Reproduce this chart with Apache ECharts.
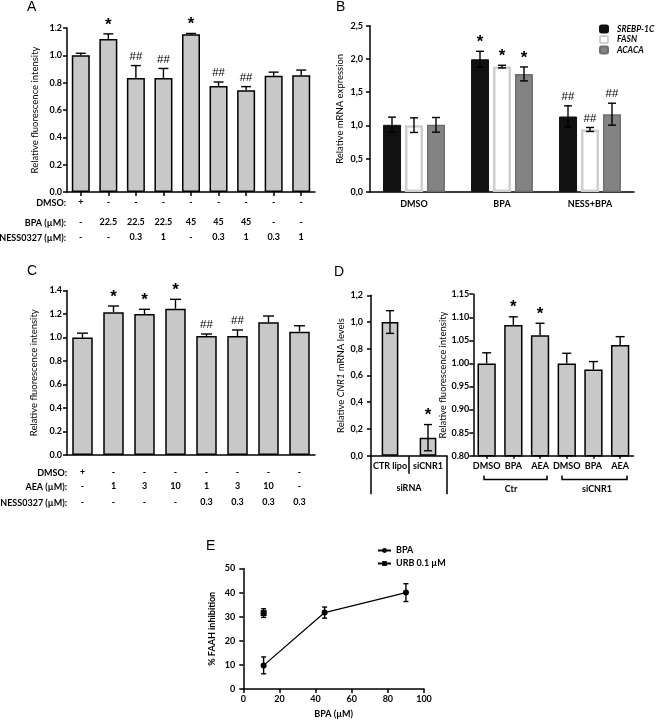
<!DOCTYPE html>
<html><head><meta charset="utf-8">
<script src="https://cdn.jsdelivr.net/npm/echarts@6/dist/echarts.min.js"></script>
<style>html,body{margin:0;padding:0;background:#fff}#c{width:657px;height:720px}</style>
</head><body><div id="c"></div>
<script>
// ---------- DATA ----------
const catsA = ['A1','A2','A3','A4','A5','A6','A7','A8','A9'];
const valsA = [1.00, 1.12, 0.835, 0.835, 1.155, 0.775, 0.745, 0.85, 0.855];
const errTopA = [1.015, 1.157, 0.925, 0.904, 1.16, 0.805, 0.771, 0.877, 0.892];
const sigA = ['', '*', '##', '##', '*', '##', '##', '', ''];
const rowA_DMSO = ['+','-','-','-','-','-','-','-','-'];
const rowA_BPA = ['-','22.5','22.5','22.5','45','45','45','-','-'];
const rowA_NESS = ['-','-','0.3','1','-','0.3','1','0.3','1'];
const rowTitlesA = ['DMSO:', 'BPA (µM):', 'NESS0327 (µM):'];

const groupsB = ['DMSO', 'BPA', 'NESS+BPA'];
const namesB = ['SREBP-1C', 'FASN', 'ACACA'];
const srebp = [1.01, 1.995, 1.135];
const srebpErr = [0.115, 0.12, 0.16];
const fasn = [1.005, 1.885, 0.94];
const fasnErr = [0.11, 0.02, 0.03];
const acaca = [1.01, 1.775, 1.17];
const acacaErr = [0.11, 0.105, 0.165];
const sigSrebp = ['', '*', '##'];
const sigFasn = ['', '*', '##'];
const sigAcaca = ['', '*', '##'];

const catsC = ['C1','C2','C3','C4','C5','C6','C7','C8'];
const valsC = [1.0, 1.215, 1.2, 1.245, 1.013, 1.013, 1.13, 1.05];
const errTopC = [1.037, 1.268, 1.24, 1.325, 1.03, 1.064, 1.183, 1.1];
const sigC = ['', '*', '*', '*', '##', '##', '', ''];
const rowC_DMSO = ['+','-','-','-','-','-','-','-'];
const rowC_AEA = ['-','1','3','10','1','3','10','-'];
const rowC_NESS = ['-','-','-','-','0.3','0.3','0.3','0.3'];
const rowTitlesC = ['DMSO:', 'AEA (µM):', 'NESS0327 (µM):'];

const catsD1 = ['CTR lipo', 'siCNR1'];
const groupD1 = ['siRNA'];
const valsD1 = [1.0, 0.135];
const errD1 = [0.085, 0.098];
const sigD1 = ['', '*'];
const catsD2 = ['D1','D2','D3','D4','D5','D6'];
const labelsD2 = ['DMSO', 'BPA', 'AEA', 'DMSO', 'BPA', 'AEA'];
const valsD2 = [1.0, 1.083, 1.061, 1.0, 0.987, 1.040];
const errTopD2 = [1.023, 1.101, 1.087, 1.022, 1.004, 1.058];
const sigD2 = ['', '*', '*', '', '', ''];
const bracketLabelsD2 = ['Ctr', 'siCNR1'];

const bpaX = [11.25, 45, 90];
const bpaY = [9.8, 31.7, 40.0];
const bpaErr = [3.5, 2.3, 3.7];
const urbX = [11.25];
const urbY = [31.5];
const urbErr = [1.8];
const namesE = ['BPA', 'URB 0.1 µM'];

// ---------- HELPERS ----------
const FONT = 'Lato';
const BAR = '#c8c8c8';
const axLine = {show: true, onZero: false, lineStyle: {color: '#000', width: 1.5}};
const lbl = (extra) => Object.assign({color: '#000', fontFamily: FONT, fontWeight: 'bold', fontSize: 9}, extra);

function yAx(grid, min, max, interval, fmt, name, gap, margin, nameStyle) {
  return {
    type: 'value', gridIndex: grid, min, max, interval,
    name, nameLocation: 'middle', nameGap: gap,
    nameTextStyle: Object.assign({color: '#000', fontFamily: FONT, fontSize: 9.5}, nameStyle || {}),
    axisLine: axLine, splitLine: {show: false},
    axisTick: {show: true, length: 4, lineStyle: {color: '#000', width: 1.5}},
    axisLabel: lbl({margin, formatter: fmt})
  };
}
function rowAx(grid, data, row, offset, margin) {
  return {
    type: 'category', gridIndex: grid, data, position: 'bottom', offset,
    axisLine: {show: false, onZero: false}, axisTick: {show: false},
    axisLabel: lbl({interval: 0, margin, formatter: (v, i) => row[i]})
  };
}
function errSeries(xi, yi, rows, capW, slotFrac, twoSided) {
  return {
    type: 'custom', xAxisIndex: xi, yAxisIndex: yi, silent: true, z: 4,
    data: rows, encode: {x: 0, y: [1, 2]},
    renderItem: (params, api) => {
      const x = api.value(0), lo = api.value(1), hi = api.value(2), slot = api.value(3);
      const p1 = api.coord([x, lo]), p2 = api.coord([x, hi]);
      const band = slotFrac ? api.size([1, 0])[0] : 0;
      const cx = p1[0] + slot * band * slotFrac;
      const h = capW / 2;
      const st = {stroke: '#000', lineWidth: 1.4};
      const ch = [
        {type: 'line', shape: {x1: cx, y1: p1[1], x2: cx, y2: p2[1]}, style: st},
        {type: 'line', shape: {x1: cx - h, y1: p2[1], x2: cx + h, y2: p2[1]}, style: st}
      ];
      if (twoSided) ch.push({type: 'line', shape: {x1: cx - h, y1: p1[1], x2: cx + h, y2: p1[1]}, style: st});
      return {type: 'group', children: ch};
    }
  };
}
function sigSeries(xi, yi, rows, texts, slotFrac) {
  return {
    type: 'custom', xAxisIndex: xi, yAxisIndex: yi, silent: true, z: 5,
    data: rows, encode: {x: 0, y: 1},
    renderItem: (params, api) => {
      const t = texts[params.dataIndex];
      if (!t) return null;
      const p = api.coord([api.value(0), api.value(1)]);
      const band = slotFrac ? api.size([1, 0])[0] : 0;
      const cx = p[0] + api.value(2) * band * slotFrac;
      const star = t === '*';
      return {
        type: 'text', x: cx, y: p[1] - 9,
        style: {text: t, align: 'center', verticalAlign: 'middle', fill: '#000',
          font: star ? 'bold 17px "Liberation Sans"' : '11.5px "Liberation Sans"'}
      };
    }
  };
}
const idxRows = (vals, tops, slot) => vals.map((v, i) => [i, v, tops[i], slot]);
const sigRows = (tops, slot) => tops.map((v, i) => [i, v, slot]);
const pmRows = (vals, errs, slot) => vals.map((v, i) => [i, v - errs[i], v + errs[i], slot]);
const barStyle = {color: BAR, borderColor: '#000', borderWidth: 1.5};

const chart = echarts.init(document.getElementById('c'), null, {renderer: 'canvas'});
const comma = v => v.toFixed(1).replace('.', ',');
const titleFont = 'bold 9px ' + FONT;

const option = {
  animation: false,
  backgroundColor: '#fff',
  textStyle: {fontFamily: FONT},
  grid: [
    {left: 67, top: 28, width: 248, height: 164},
    {left: 370, top: 25.7, width: 264, height: 166.3},
    {left: 67, top: 290.5, width: 248, height: 164.5},
    {left: 371, top: 295.3, width: 76, height: 160.4},
    {left: 473.3, top: 294.2, width: 160.2, height: 161.5},
    {left: 243.3, top: 568.5, width: 180.7, height: 120.8}
  ],
  xAxis: [
    {type: 'category', gridIndex: 0, data: catsA, axisLine: axLine,
     axisTick: {show: true, alignWithLabel: true, length: 4, lineStyle: {color: '#000', width: 1.5}},
     axisLabel: lbl({interval: 0, margin: 6, formatter: (v, i) => rowA_DMSO[i]})},
    rowAx(0, catsA, rowA_BPA, 20, 6),
    rowAx(0, catsA, rowA_NESS, 34.4, 6),
    {type: 'category', gridIndex: 1, data: groupsB, axisLine: axLine, axisTick: {show: false},
     axisLabel: lbl({interval: 0, margin: 8})},
    {type: 'category', gridIndex: 2, data: catsC, axisLine: axLine, axisTick: {show: false},
     axisLabel: lbl({interval: 0, margin: 13, formatter: (v, i) => rowC_DMSO[i]})},
    rowAx(2, catsC, rowC_AEA, 13.4, 13),
    rowAx(2, catsC, rowC_NESS, 29.4, 13),
    {type: 'category', gridIndex: 3, data: catsD1, axisLine: axLine,
     axisTick: {show: true, alignWithLabel: false, interval: 0, length: 18, lineStyle: {color: '#000', width: 1.5}},
     axisLabel: lbl({interval: 0, margin: 6})},
    {type: 'category', gridIndex: 3, data: groupD1, position: 'bottom', offset: 18,
     axisLine: {show: false, onZero: false},
     axisTick: {show: true, alignWithLabel: false, interval: 0, length: 20.5, lineStyle: {color: '#000', width: 1.5}},
     axisLabel: lbl({interval: 0, margin: 9.5})},
    {type: 'category', gridIndex: 4, data: catsD2, axisLine: axLine,
     axisTick: {show: true, alignWithLabel: true, length: 3, lineStyle: {color: '#000', width: 1.5}},
     axisLabel: lbl({interval: 0, margin: 6, formatter: (v, i) => labelsD2[i]})},
    {type: 'value', gridIndex: 5, min: 0, max: 100, interval: 20,
     name: 'BPA (µM)', nameLocation: 'middle', nameGap: 21,
     nameTextStyle: {color: '#000', fontFamily: FONT, fontSize: 9, fontWeight: 'bold'},
     axisLine: axLine, splitLine: {show: false},
     axisTick: {show: true, length: 4, lineStyle: {color: '#000', width: 1.5}},
     axisLabel: lbl({margin: 6})}
  ],
  yAxis: [
    yAx(0, 0, 1.2, 0.2, v => v.toFixed(1), 'Relative fluorescence intensity', 27.5, 5),
    yAx(1, 0, 2.5, 0.5, comma, 'Relative mRNA expression', 25.5, 7),
    yAx(2, 0, 1.4, 0.2, v => v.toFixed(1), 'Relative fluorescence intensity', 28, 5),
    yAx(3, 0, 1.2, 0.2, comma, '{n|Relative }{i|CNR1}{n| mRNA levels}', 25, 8,
        {rich: {n: {fontFamily: FONT, fontSize: 9.5, color: '#000'}, i: {fontFamily: FONT, fontSize: 9.5, color: '#000', fontStyle: 'italic'}}}),
    yAx(4, 0.8, 1.15, 0.05, v => v.toFixed(2), 'Relative fluorescence intensity', 22, 4),
    yAx(5, 0, 50, 10, v => String(v), '% FAAH inhibition', 27, 8, {fontWeight: 'bold', fontSize: 9})
  ],
  legend: [
    {data: namesB, left: 599, top: 24.5, padding: 0, orient: 'vertical', itemWidth: 8, itemHeight: 7, itemGap: 1.5,
     selectedMode: false,
     textStyle: {fontFamily: FONT, fontStyle: 'italic', fontWeight: 'bold', fontSize: 8.5, color: '#000', padding: [0, 0, 0, 4]}},
    {data: namesE, left: 377, top: 546, padding: 0, orient: 'vertical', itemWidth: 13, itemHeight: 6, itemGap: 4,
     selectedMode: false,
     textStyle: {fontFamily: FONT, fontWeight: 'bold', fontSize: 9, color: '#000'}}
  ],
  series: [
    {type: 'bar', xAxisIndex: 0, yAxisIndex: 0, data: valsA, barWidth: 18, itemStyle: barStyle, silent: true},
    errSeries(0, 0, idxRows(valsA, errTopA, 0), 10, 0, false),
    sigSeries(0, 0, sigRows(errTopA, 0), sigA, 0),
    {type: 'bar', name: namesB[0], xAxisIndex: 3, yAxisIndex: 1, data: srebp, barWidth: 18, barGap: '22%',
     itemStyle: {color: '#111', borderColor: '#111', borderWidth: 1}, silent: true},
    {type: 'bar', name: namesB[1], xAxisIndex: 3, yAxisIndex: 1, data: fasn, barWidth: 18, barGap: '22%',
     itemStyle: {color: '#fff', borderColor: '#cfcfcf', borderWidth: 2.5}, silent: true},
    {type: 'bar', name: namesB[2], xAxisIndex: 3, yAxisIndex: 1, data: acaca, barWidth: 18, barGap: '22%',
     itemStyle: {color: '#838383', borderColor: '#6e6e6e', borderWidth: 1.5}, silent: true},
    errSeries(3, 1, pmRows(srebp, srebpErr, -1), 8, 0.25, true),
    errSeries(3, 1, pmRows(fasn, fasnErr, 0), 8, 0.25, true),
    errSeries(3, 1, pmRows(acaca, acacaErr, 1), 8, 0.25, true),
    sigSeries(3, 1, sigRows(srebp.map((v, i) => v + srebpErr[i]), -1), sigSrebp, 0.25),
    sigSeries(3, 1, sigRows(fasn.map((v, i) => v + fasnErr[i]), 0), sigFasn, 0.25),
    sigSeries(3, 1, sigRows(acaca.map((v, i) => v + acacaErr[i]), 1), sigAcaca, 0.25),
    {type: 'bar', xAxisIndex: 4, yAxisIndex: 2, data: valsC, barWidth: 20.5, itemStyle: barStyle, silent: true},
    errSeries(4, 2, idxRows(valsC, errTopC, 0), 11, 0, false),
    sigSeries(4, 2, sigRows(errTopC, 0), sigC, 0),
    {type: 'bar', xAxisIndex: 7, yAxisIndex: 3, data: valsD1, barWidth: 16.7, itemStyle: barStyle, silent: true},
    errSeries(7, 3, pmRows(valsD1, errD1, 0), 8, 0, true),
    sigSeries(7, 3, sigRows(valsD1.map((v, i) => v + errD1[i]), 0), sigD1, 0),
    {type: 'bar', xAxisIndex: 9, yAxisIndex: 4, data: valsD2, barWidth: 18.3, itemStyle: barStyle, silent: true},
    errSeries(9, 4, idxRows(valsD2, errTopD2, 0), 9, 0, false),
    sigSeries(9, 4, sigRows(errTopD2, 0), sigD2, 0),
    {type: 'line', name: namesE[0], xAxisIndex: 10, yAxisIndex: 5, data: bpaX.map((x, i) => [x, bpaY[i]]),
     symbol: 'circle', symbolSize: 6, itemStyle: {color: '#000'}, lineStyle: {color: '#000', width: 1.3}, silent: true},
    {type: 'line', name: namesE[1], xAxisIndex: 10, yAxisIndex: 5, data: urbX.map((x, i) => [x, urbY[i]]),
     symbol: 'rect', symbolSize: 6, itemStyle: {color: '#000'}, lineStyle: {color: '#000', width: 1.3}, silent: true},
    errSeries(10, 5, bpaX.map((x, i) => [x, bpaY[i] - bpaErr[i], bpaY[i] + bpaErr[i], 0]), 5, 0, true),
    errSeries(10, 5, urbX.map((x, i) => [x, urbY[i] - urbErr[i], urbY[i] + urbErr[i], 0]), 5, 0, true)
  ],
  graphic: [
    {type: 'text', left: 27, top: 0, style: {text: 'A', font: '14px "Liberation Sans"', fill: '#000'}},
    {type: 'text', left: 336, top: 0, style: {text: 'B', font: '14px "Liberation Sans"', fill: '#000'}},
    {type: 'text', left: 27, top: 264, style: {text: 'C', font: '14px "Liberation Sans"', fill: '#000'}},
    {type: 'text', left: 334, top: 265, style: {text: 'D', font: '14px "Liberation Sans"', fill: '#000'}},
    {type: 'text', left: 206, top: 539, style: {text: 'E', font: '14px "Liberation Sans"', fill: '#000'}},
    ...rowTitlesA.map((t, i) => ({type: 'text', x: 66, y: [203.3, 223.3, 237.7][i],
      style: {text: t, align: 'right', verticalAlign: 'middle', font: titleFont, fill: '#000'}})),
    ...rowTitlesC.map((t, i) => ({type: 'text', x: 67, y: [473.3, 486.7, 502.7][i],
      style: {text: t, align: 'right', verticalAlign: 'middle', font: titleFont, fill: '#000'}})),
    {type: 'polyline', shape: {points: [[484, 475.5], [484, 479.5], [547, 479.5], [547, 475.5]]},
     style: {stroke: '#000', lineWidth: 1.5, fill: null}},
    {type: 'polyline', shape: {points: [[562, 475.5], [562, 479.5], [627, 479.5], [627, 475.5]]},
     style: {stroke: '#000', lineWidth: 1.5, fill: null}},
    {type: 'text', x: 511, y: 489, style: {text: bracketLabelsD2[0], align: 'center', verticalAlign: 'middle', font: titleFont, fill: '#000'}},
    {type: 'text', x: 597, y: 489, style: {text: bracketLabelsD2[1], align: 'center', verticalAlign: 'middle', font: titleFont, fill: '#000'}}
  ]
};
chart.setOption(option);
</script>
</body></html>
